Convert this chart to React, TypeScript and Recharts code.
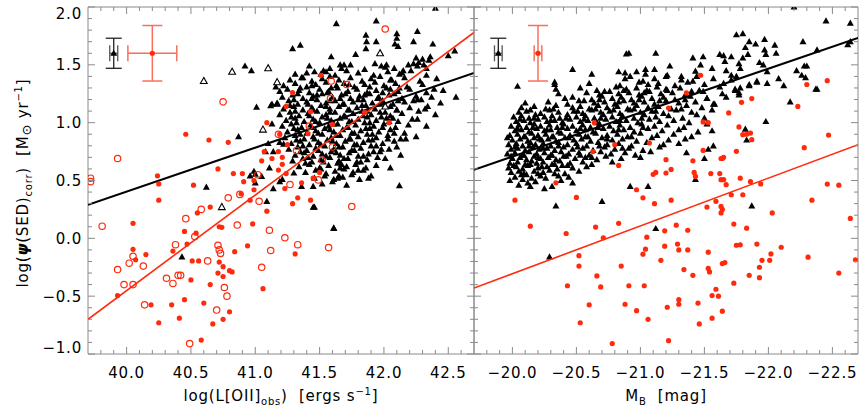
import React from 'react';
import { ScatterChart, Scatter, XAxis, YAxis, ReferenceArea, ErrorBar } from 'recharts';

type Pt = [number, number];

// ---------- left panel: log L[OII]obs vs log SFR(SED) ----------
const leftRedFilled: Pt[] = [
  [40.46, 0.9], [40.64, 0.85], [40.79, 0.83], [40.24, 0.54], [40.25, 0.47], [40.25, 0.33], [40.52, 0.46],
  [40.71, 0.6], [40.83, 0.56], [40.9, 0.56], [40.91, 0.49], [40.99, 0.5], [41.05, 0.67], [41.09, 1.0],
  [41.13, 0.69], [41.07, 0.75], [41.18, 0.75], [41.21, 0.7], [41.18, 0.59], [41.21, 0.64], [41.19, 0.9],
  [40.89, 0.385], [40.96, 0.33], [41.09, 0.235], [40.65, 0.27], [40.55, 0.22], [40.05, 0.13], [40.45, 0.06],
  [40.54, 0.045], [40.72, 0.1], [40.74, 0.095], [40.98, 0.125], [40.94, -0.065], [40.84, -0.115], [40.36, -0.11],
  [40.47, -0.05], [40.05, -0.095], [40.07, -0.185], [40.15, -0.14], [40.51, -0.195], [40.56, -0.195],
  [40.72, -0.205], [40.75, -0.245], [40.71, -0.3], [40.75, -0.33], [40.8, -0.28], [40.82, -0.29], [40.5, -0.36],
  [40.65, -0.4], [39.93, -0.495], [40.19, -0.575], [40.35, -0.575], [40.45, -0.53], [40.6, -0.56], [40.8, -0.635],
  [40.25, -0.73], [40.41, -0.69], [40.67, -0.74], [40.75, -0.7], [40.58, -0.88], [41.06, -0.435],
  [41.24, 0.56], [40.99, 0.42], [41.23, 0.43], [41.36, 0.48], [41.45, 0.52], [41.5, 0.57], [41.33, 0.35],
  [41.29, 0.3], [41.43, 0.33], [41.31, -0.135], [41.25, 0.81], [41.41, 0.905], [41.6, 0.985], [42.04, 1.0],
  [41.51, 1.41], [41.29, 1.26], [41.24, 1.14], [41.43, 1.095], [41.85, 1.09],
];

const leftRedOpen: Pt[] = [
  [40.75, 1.18], [39.93, 0.69], [39.72, 0.52], [39.72, 0.49], [39.81, 0.105], [40.46, 0.17], [40.58, 0.25],
  [40.79, 0.35], [40.88, 0.38], [41.02, 0.55], [41.03, 0.32], [40.86, 0.115], [41.11, 0.07], [41.23, 0.005],
  [41.12, -0.105], [41.05, -0.25], [40.53, 0.015], [40.38, -0.055], [40.71, -0.06], [40.72, -0.1], [40.73, -0.13],
  [40.63, -0.195], [40.05, -0.155], [40.02, -0.215], [40.13, -0.24], [39.93, -0.27], [40.31, -0.345],
  [40.4, -0.32], [40.42, -0.32], [40.36, -0.39], [39.98, -0.4], [40.05, -0.4], [40.76, -0.425], [40.78, -0.5],
  [40.14, -0.575], [40.7, -0.62], [40.49, -0.91], [41.32, 0.76], [41.6, 0.79], [41.52, 0.675], [41.27, 0.465],
  [41.49, 0.505], [41.75, 0.275], [41.33, -0.055], [41.57, -0.08], [41.42, 0.97], [42.01, 1.81], [41.59, 1.36],
  [41.71, 1.33], [41.585, 1.21], [41.18, 0.9],
];

const leftBlackOpen: Pt[] = [
  [40.6, 1.36], [40.82, 1.44], [41.1, 1.47], [41.17, 1.35], [41.06, 0.94], [40.74, 0.27], [41.97, 1.6], [42.01, 1.14],
];

const leftBlackSparse: Pt[] = [
  [41.01, 1.135], [41.12, 1.147], [41.17, 1.165], [41.13, 0.99], [40.87, 0.88], [40.99, 0.58], [41.05, 0.535],
  [40.96, 0.54], [41.0, 0.48], [41.11, 0.61], [40.62, 0.443], [41.09, 0.32], [41.14, 0.43], [41.19, 0.49],
  [41.21, 0.51], [41.1, 0.82], [41.14, 0.75], [41.08, 0.75], [41.19, 0.83], [41.22, 0.815], [40.43, -0.16],
  [41.63, 1.857], [41.94, 1.88], [42.4, 1.99], [41.29, 1.64], [41.35, 1.67], [40.97, 1.45], [40.92, 1.49],
  [41.59, 1.57], [41.86, 1.756], [41.865, 1.7], [41.86, 1.64], [41.78, 1.59], [41.94, 1.7], [42.1, 1.77],
  [42.1, 1.73], [42.085, 1.68], [42.11, 1.66], [42.26, 1.79], [42.23, 1.7], [42.38, 1.68], [42.25, 1.56],
  [42.27, 1.52], [42.23, 1.51], [42.26, 1.49], [42.3, 1.55], [42.36, 1.57], [42.31, 1.5], [42.33, 1.47],
  [42.35, 1.54], [42.5, 1.58], [42.55, 1.62], [41.93, 1.51], [41.74, 1.5], [41.67, 1.47], [41.69, 1.5],
  [41.53, 1.45], [41.55, 1.44], [41.51, 1.42], [41.4, 1.43], [41.37, 1.39], [41.16, 1.31], [41.13, 1.16],
  [41.17, 1.16], [42.01, 1.48], [42.02, 1.5], [42.05, 1.37], [42.14, 1.43], [42.15, 1.45], [42.12, 1.3],
  [42.23, 1.19], [42.26, 1.2], [42.39, 1.29], [42.56, 1.22], [42.34, 1.14], [42.04, 0.77], [42.13, 0.72],
  [42.01, 0.69], [42.05, 0.61], [41.81, 0.51], [41.9, 0.54], [42.12, 0.455], [41.46, 0.27], [41.61, 0.085],
  [41.0, 0.555], [41.64, 0.52], [41.65, 0.54], [41.3, 0.565], [41.36, 0.45], [41.45, 0.45], [42.26, 1.03],
  [42.17, 0.86], [41.61, 0.09], [41.45, 0.27],
];

const leftBlackCloud: Pt[] = [
  [41.42, 1.49], [41.58, 1.47], [41.66, 1.5], [41.85, 1.46], [41.98, 1.49], [42.08, 1.47], [42.19, 1.5],
  [41.31, 1.42], [41.46, 1.44], [41.62, 1.41], [41.71, 1.45], [41.8, 1.43], [41.92, 1.41], [42.03, 1.44], [42.12, 1.42], [42.21, 1.45], [42.33, 1.41],
  [41.27, 1.37], [41.36, 1.39], [41.44, 1.36], [41.52, 1.38], [41.58, 1.4], [41.65, 1.37], [41.74, 1.39], [41.83, 1.36], [41.9, 1.38], [41.97, 1.4], [42.06, 1.37], [42.16, 1.39], [42.28, 1.36], [42.41, 1.38],
  [41.22, 1.32], [41.31, 1.34], [41.4, 1.31], [41.47, 1.33], [41.55, 1.35], [41.63, 1.32], [41.69, 1.34], [41.77, 1.31], [41.85, 1.33], [41.93, 1.35], [42.0, 1.32], [42.09, 1.34], [42.18, 1.31], [42.3, 1.33],
  [41.19, 1.27], [41.25, 1.29], [41.34, 1.28], [41.42, 1.26], [41.5, 1.29], [41.57, 1.27], [41.64, 1.3], [41.72, 1.27], [41.79, 1.29], [41.87, 1.26], [41.94, 1.28], [42.02, 1.3], [42.11, 1.27], [42.2, 1.29], [42.33, 1.26], [42.46, 1.28],
  [41.21, 1.22], [41.29, 1.24], [41.37, 1.21], [41.45, 1.23], [41.52, 1.25], [41.6, 1.22], [41.67, 1.24], [41.74, 1.21], [41.81, 1.23], [41.89, 1.25], [41.96, 1.22], [42.04, 1.24], [42.14, 1.21], [42.25, 1.23], [42.37, 1.22],
  [41.17, 1.17], [41.26, 1.19], [41.33, 1.16], [41.4, 1.18], [41.48, 1.2], [41.55, 1.17], [41.62, 1.19], [41.69, 1.16], [41.76, 1.18], [41.84, 1.2], [41.91, 1.17], [41.99, 1.19], [42.07, 1.16], [42.16, 1.18], [42.29, 1.2], [42.44, 1.17],
  [41.22, 1.12], [41.3, 1.14], [41.37, 1.11], [41.44, 1.13], [41.51, 1.15], [41.58, 1.12], [41.65, 1.14], [41.72, 1.11], [41.79, 1.13], [41.86, 1.15], [41.93, 1.12], [42.01, 1.14], [42.1, 1.11], [42.2, 1.13], [42.32, 1.12],
  [41.19, 1.07], [41.27, 1.09], [41.34, 1.06], [41.41, 1.08], [41.48, 1.1], [41.55, 1.07], [41.62, 1.09], [41.69, 1.06], [41.76, 1.08], [41.83, 1.1], [41.9, 1.07], [41.97, 1.09], [42.05, 1.06], [42.14, 1.08], [42.27, 1.1], [42.4, 1.07],
  [41.24, 1.02], [41.31, 1.04], [41.38, 1.01], [41.45, 1.03], [41.52, 1.05], [41.59, 1.02], [41.66, 1.04], [41.73, 1.01], [41.8, 1.03], [41.87, 1.05], [41.94, 1.02], [42.02, 1.04], [42.11, 1.01], [42.22, 1.03],
  [41.21, 0.97], [41.28, 0.99], [41.36, 0.96], [41.43, 0.98], [41.5, 1.0], [41.57, 0.97], [41.64, 0.99], [41.71, 0.96], [41.78, 0.98], [41.85, 1.0], [41.92, 0.97], [42.0, 0.99], [42.09, 0.96], [42.19, 0.98], [42.33, 0.97],
  [41.25, 0.92], [41.33, 0.94], [41.4, 0.91], [41.47, 0.93], [41.54, 0.95], [41.61, 0.92], [41.68, 0.94], [41.75, 0.91], [41.82, 0.93], [41.89, 0.95], [41.96, 0.92], [42.05, 0.94], [42.16, 0.91],
  [41.23, 0.87], [41.31, 0.89], [41.38, 0.86], [41.45, 0.88], [41.52, 0.9], [41.59, 0.87], [41.66, 0.89], [41.73, 0.86], [41.8, 0.88], [41.87, 0.9], [41.94, 0.87], [42.03, 0.89], [42.13, 0.86], [42.25, 0.88],
  [41.28, 0.82], [41.35, 0.84], [41.42, 0.81], [41.49, 0.83], [41.56, 0.85], [41.63, 0.82], [41.7, 0.84], [41.77, 0.81], [41.84, 0.83], [41.91, 0.85], [41.99, 0.82], [42.08, 0.84],
  [41.26, 0.77], [41.33, 0.79], [41.4, 0.76], [41.47, 0.78], [41.54, 0.8], [41.61, 0.77], [41.68, 0.79], [41.75, 0.76], [41.82, 0.78], [41.9, 0.8], [41.98, 0.77], [42.1, 0.79],
  [41.31, 0.72], [41.38, 0.74], [41.45, 0.71], [41.52, 0.73], [41.59, 0.75], [41.66, 0.72], [41.73, 0.74], [41.8, 0.71], [41.88, 0.73], [41.97, 0.75],
  [41.29, 0.67], [41.37, 0.69], [41.44, 0.66], [41.51, 0.68], [41.58, 0.7], [41.65, 0.67], [41.72, 0.69], [41.79, 0.66], [41.87, 0.68], [41.95, 0.7],
  [41.34, 0.62], [41.42, 0.64], [41.5, 0.61], [41.57, 0.63], [41.64, 0.65], [41.71, 0.62], [41.78, 0.64], [41.86, 0.61], [41.94, 0.63],
  [41.39, 0.57], [41.47, 0.59], [41.55, 0.56], [41.62, 0.58], [41.69, 0.6], [41.76, 0.57], [41.84, 0.59],
  [41.46, 0.52], [41.54, 0.54], [41.61, 0.51], [41.68, 0.53], [41.75, 0.55], [41.88, 0.52],
  [41.52, 0.47], [41.6, 0.49], [41.71, 0.46],
];

// the crowded middle of the left cloud, read between the marks above
const leftBlackCore: Pt[] = [
  [41.35, 1.3], [41.44, 1.32], [41.59, 1.3], [41.73, 1.33], [41.89, 1.31], [42.05, 1.29],
  [41.33, 1.25], [41.48, 1.24], [41.56, 1.26], [41.7, 1.25], [41.85, 1.24], [41.99, 1.26], [42.08, 1.25],
  [41.3, 1.2], [41.44, 1.21], [41.58, 1.19], [41.66, 1.21], [41.8, 1.2], [41.95, 1.21], [42.11, 1.19],
  [41.27, 1.15], [41.41, 1.16], [41.55, 1.14], [41.68, 1.16], [41.83, 1.15], [41.97, 1.16], [42.05, 1.14],
  [41.31, 1.1], [41.45, 1.11], [41.58, 1.09], [41.73, 1.11], [41.87, 1.1], [42.01, 1.09], [42.1, 1.11],
  [41.28, 1.05], [41.42, 1.06], [41.56, 1.04], [41.7, 1.05], [41.84, 1.06], [41.98, 1.05], [42.07, 1.04],
  [41.32, 1.0], [41.47, 1.01], [41.61, 0.99], [41.75, 1.01], [41.89, 1.0], [42.04, 1.01],
  [41.3, 0.95], [41.44, 0.96], [41.58, 0.94], [41.72, 0.96], [41.86, 0.95], [41.99, 0.96],
  [41.35, 0.9], [41.49, 0.91], [41.63, 0.89], [41.77, 0.91], [41.91, 0.9], [42.08, 0.91],
  [41.32, 0.85], [41.46, 0.86], [41.6, 0.84], [41.74, 0.86], [41.88, 0.85], [42.03, 0.86],
  [41.37, 0.8], [41.51, 0.81], [41.65, 0.79], [41.79, 0.81], [41.94, 0.8],
  [41.35, 0.75], [41.49, 0.76], [41.63, 0.74], [41.77, 0.76], [41.92, 0.75],
  [41.41, 0.7], [41.55, 0.71], [41.69, 0.69], [41.84, 0.71],
  [41.39, 0.65], [41.53, 0.66], [41.67, 0.64], [41.82, 0.66],
  [41.51, 0.6], [41.66, 0.61], [41.8, 0.59],
];

const leftBlackFit: Pt[] = [[39.7, 0.29], [42.7, 1.43]];
const leftRedFit: Pt[] = [[39.7, -0.7], [42.7, 1.78]];

// ---------- right panel: M_B vs log SFR(SED) ----------
const rightRed: Pt[] = [
  [-20.02, 0.33], [-20.14, 0.105], [-20.34, 0.48], [-20.42, 0.042], [-20.5, 0.354], [-20.43, -0.41], [-20.52, -0.15],
  [-20.52, -0.24], [-20.53, -0.73], [-20.6, -0.575], [-20.65, 0.097], [-20.66, -0.325], [-20.69, -0.42], [-20.71, 0.005],
  [-20.78, -0.91], [-20.8, 0.81], [-20.83, 0.63], [-20.83, 0.13], [-20.85, -0.24], [-20.88, -0.57], [-20.91, -0.41],
  [-20.97, -0.625], [-20.97, 0.42], [-21.02, 0.35], [-21.03, -0.41], [-21.02, -0.137], [-21.04, -0.094], [-21.05, 0.01],
  [-21.06, -0.7], [-21.07, 0.824], [-21.1, 0.553], [-21.12, 0.57], [-21.11, 0.3], [-21.16, -0.19], [-21.19, 0.065],
  [-21.19, -0.068], [-21.2, 0.68], [-21.2, 0.565], [-21.21, -0.596], [-21.22, -0.885], [-21.22, 1.127], [-21.24, 0.596],
  [-21.24, 0.33], [-21.28, 0.114], [-21.29, -0.05], [-21.3, -0.1], [-21.3, -0.53], [-21.3, -0.57], [-21.34, -0.27],
  [-21.36, 1.257], [-21.37, 0.07], [-21.37, -0.1], [-21.41, 0.67], [-21.41, -0.32], [-21.42, 0.57], [-21.43, 0.535],
  [-21.45, -0.56], [-21.46, -0.74], [-21.47, 1.41], [-21.49, 1.006], [-21.53, 1.0], [-21.49, 0.76], [-21.52, 0.27],
  [-21.53, -0.12], [-21.53, -0.26], [-21.54, -0.29], [-21.55, 0.56], [-21.56, -0.69], [-21.56, -0.495], [-21.59, 0.32],
  [-21.59, -0.44], [-21.61, -0.5], [-21.62, 0.56], [-21.63, 0.507], [-21.65, 0.507], [-21.63, 0.69], [-21.64, 0.69],
  [-21.65, 0.7], [-21.63, 0.276], [-21.64, 0.25], [-21.63, 0.22], [-21.64, -0.218], [-21.66, -0.21], [-21.64, -0.63],
  [-21.67, 0.464], [-21.69, 1.084], [-21.71, 0.377], [-21.73, 0.123], [-21.73, -0.388], [-21.75, 0.752], [-21.75, -0.06],
  [-21.78, -0.056], [-21.77, 0.963], [-21.78, 0.52], [-21.79, 1.176], [-21.8, 0.377], [-21.8, 0.896], [-21.83, 0.9],
  [-21.86, 0.91], [-21.83, 0.088], [-21.85, -0.32], [-21.87, 0.853], [-21.87, 1.208], [-21.86, 0.49], [-21.91, -0.05],
  [-21.93, -0.34], [-21.93, -0.25], [-21.94, 0.47], [-21.95, -0.19], [-22.01, -0.19], [-22.02, -0.135], [-22.03, 0.22],
  [-22.1, -0.077], [-22.23, 1.14], [-22.28, 0.784], [-22.3, 1.33], [-22.31, -0.163], [-22.34, 0.33], [-22.46, 1.363],
  [-22.46, 0.469], [-22.47, 0.893], [-22.55, 0.46], [-22.55, -0.3], [-22.64, 0.172], [-22.68, -0.186], [-20.64, 1.0],
  [-20.63, 0.75],
];

const rightBlackSparse: Pt[] = [
  [-20.04, 1.315], [-20.47, 1.46], [-20.89, 1.595], [-20.91, 1.6], [-21.12, 1.6], [-20.83, 1.44], [-20.88, 1.43],
  [-20.97, 1.44], [-21.04, 1.46], [-21.11, 1.46], [-20.33, 1.35], [-21.75, 1.76], [-21.8, 1.77], [-21.85, 1.7],
  [-21.82, 1.65], [-21.84, 1.59], [-21.8, 1.56], [-21.9, 1.68], [-21.97, 1.72], [-22.05, 1.67], [-21.97, 1.63],
  [-21.98, 1.59], [-22.06, 1.6], [-22.27, 1.7], [-22.38, 1.63], [-22.45, 1.88], [-22.64, 1.86], [-22.62, 1.675],
  [-22.64, 1.7], [-22.2, 2.0], [-21.62, 1.59], [-21.65, 1.58], [-21.66, 1.53], [-21.71, 1.57], [-21.41, 1.56],
  [-21.49, 1.57], [-21.47, 1.5], [-21.43, 1.445], [-21.23, 1.49], [-21.2, 1.4], [-21.32, 1.4], [-21.56, 1.47],
  [-21.67, 1.45], [-21.77, 1.51], [-21.78, 1.47], [-21.93, 1.52], [-21.96, 1.5], [-21.99, 1.44], [-21.99, 1.34],
  [-22.12, 1.32], [-22.22, 1.45], [-22.26, 1.41], [-22.28, 1.49], [-22.3, 1.49], [-22.29, 1.39], [-22.37, 1.29],
  [-22.17, 1.18], [-21.98, 1.01], [-21.91, 1.35], [-21.85, 1.33], [-21.78, 1.3], [-21.77, 1.24], [-21.74, 1.28],
  [-21.57, 1.16], [-21.56, 1.11], [-21.52, 1.21], [-21.56, 0.93], [-21.53, 0.77], [-21.5, 0.69], [-21.36, 0.74],
  [-21.43, 0.51], [-21.82, 0.945], [-21.83, 0.85], [-20.29, -0.16], [-20.34, 0.28], [-20.7, 0.32], [-21.12, 0.085],
  [-21.87, 0.28], [-21.5, 1.04], [-21.57, 0.8], [-22.38, 1.29], [-20.92, 0.45], [-21.06, 0.45],
];

const rightBlackCloud: Pt[] = [
  [-20.05, 0.46], [-20.12, 0.48], [-20.31, 0.45], [-20.25, 0.43], [-20.47, 0.48], [-20.14, 0.45],
  [-19.98, 0.5], [-20.08, 0.51], [-20.18, 0.49], [-20.26, 0.52], [-20.38, 0.5],
  [-20.02, 0.53], [-20.11, 0.55], [-20.15, 0.52], [-20.22, 0.54], [-20.33, 0.56], [-20.44, 0.53],
  [-19.99, 0.57], [-20.05, 0.58], [-20.09, 0.56], [-20.17, 0.58], [-20.24, 0.57], [-20.29, 0.59], [-20.41, 0.56], [-20.52, 0.58],
  [-19.97, 0.61], [-20.03, 0.62], [-20.08, 0.6], [-20.12, 0.63], [-20.2, 0.61], [-20.27, 0.62], [-20.35, 0.6], [-20.39, 0.63], [-20.47, 0.61], [-20.58, 0.62],
  [-19.98, 0.65], [-20.04, 0.66], [-20.1, 0.64], [-20.15, 0.67], [-20.19, 0.65], [-20.24, 0.66], [-20.31, 0.64], [-20.37, 0.67], [-20.45, 0.65], [-20.55, 0.66], [-20.62, 0.64], [-20.78, 0.66],
  [-20.0, 0.69], [-20.06, 0.7], [-20.11, 0.68], [-20.17, 0.71], [-20.22, 0.69], [-20.28, 0.7], [-20.34, 0.68], [-20.42, 0.71], [-20.49, 0.69], [-20.57, 0.7], [-20.66, 0.68], [-20.73, 0.71], [-20.85, 0.69], [-21.0, 0.7],
  [-19.96, 0.73], [-20.02, 0.74], [-20.08, 0.72], [-20.13, 0.75], [-20.19, 0.73], [-20.25, 0.74], [-20.3, 0.72], [-20.38, 0.75], [-20.44, 0.73], [-20.52, 0.74], [-20.6, 0.72], [-20.69, 0.75], [-20.77, 0.73], [-20.88, 0.74], [-20.96, 0.72], [-21.08, 0.75],
  [-19.99, 0.77], [-20.04, 0.78], [-20.1, 0.76], [-20.16, 0.79], [-20.21, 0.77], [-20.27, 0.78], [-20.33, 0.76], [-20.4, 0.79], [-20.47, 0.77], [-20.55, 0.78], [-20.63, 0.76], [-20.72, 0.79], [-20.8, 0.77], [-20.91, 0.78], [-21.02, 0.76], [-21.15, 0.79],
  [-19.97, 0.81], [-20.03, 0.82], [-20.08, 0.8], [-20.14, 0.83], [-20.18, 0.81], [-20.24, 0.82], [-20.3, 0.8], [-20.36, 0.83], [-20.43, 0.81], [-20.5, 0.82], [-20.58, 0.8], [-20.67, 0.83], [-20.74, 0.81], [-20.83, 0.82], [-20.93, 0.8], [-21.05, 0.83], [-21.18, 0.81], [-21.3, 0.82],
  [-20.0, 0.85], [-20.06, 0.86], [-20.12, 0.84], [-20.17, 0.87], [-20.23, 0.85], [-20.28, 0.86], [-20.34, 0.84], [-20.41, 0.87], [-20.48, 0.85], [-20.54, 0.86], [-20.61, 0.84], [-20.7, 0.87], [-20.78, 0.85], [-20.86, 0.86], [-20.97, 0.84], [-21.09, 0.87], [-21.22, 0.85], [-21.35, 0.86],
  [-19.98, 0.89], [-20.04, 0.9], [-20.1, 0.88], [-20.15, 0.91], [-20.2, 0.89], [-20.26, 0.9], [-20.32, 0.88], [-20.38, 0.91], [-20.45, 0.89], [-20.52, 0.9], [-20.59, 0.88], [-20.65, 0.91], [-20.74, 0.89], [-20.82, 0.9], [-20.9, 0.88], [-21.0, 0.91], [-21.13, 0.89], [-21.26, 0.9], [-21.4, 0.88],
  [-20.02, 0.93], [-20.07, 0.94], [-20.13, 0.92], [-20.19, 0.95], [-20.25, 0.93], [-20.3, 0.94], [-20.36, 0.92], [-20.43, 0.95], [-20.5, 0.93], [-20.57, 0.94], [-20.63, 0.92], [-20.71, 0.95], [-20.79, 0.93], [-20.87, 0.94], [-20.95, 0.92], [-21.06, 0.95], [-21.17, 0.93], [-21.3, 0.94], [-21.45, 0.92],
  [-19.99, 0.97], [-20.05, 0.98], [-20.11, 0.96], [-20.17, 0.99], [-20.22, 0.97], [-20.29, 0.98], [-20.35, 0.96], [-20.4, 0.99], [-20.47, 0.97], [-20.55, 0.98], [-20.61, 0.96], [-20.68, 0.99], [-20.76, 0.97], [-20.84, 0.98], [-20.92, 0.96], [-21.01, 0.99], [-21.11, 0.97], [-21.21, 0.98], [-21.34, 0.96], [-21.52, 0.99],
  [-20.03, 1.01], [-20.09, 1.02], [-20.14, 1.0], [-20.2, 1.03], [-20.27, 1.01], [-20.33, 1.02], [-20.39, 1.0], [-20.45, 1.03], [-20.53, 1.01], [-20.59, 1.02], [-20.66, 1.0], [-20.73, 1.03], [-20.81, 1.01], [-20.89, 1.02], [-20.98, 1.0], [-21.07, 1.03], [-21.15, 1.01], [-21.26, 1.02], [-21.38, 1.0],
  [-20.01, 1.05], [-20.07, 1.06], [-20.13, 1.04], [-20.18, 1.07], [-20.25, 1.05], [-20.31, 1.06], [-20.37, 1.04], [-20.43, 1.07], [-20.5, 1.05], [-20.57, 1.06], [-20.64, 1.04], [-20.71, 1.07], [-20.78, 1.05], [-20.86, 1.06], [-20.95, 1.04], [-21.03, 1.07], [-21.12, 1.05], [-21.22, 1.06], [-21.33, 1.04], [-21.44, 1.07],
  [-20.05, 1.09], [-20.11, 1.1], [-20.22, 1.08], [-20.29, 1.11], [-20.36, 1.09], [-20.48, 1.1], [-20.55, 1.08], [-20.62, 1.11], [-20.69, 1.09], [-20.76, 1.1], [-20.84, 1.08], [-20.92, 1.11], [-21.0, 1.09], [-21.09, 1.1], [-21.18, 1.08], [-21.28, 1.11], [-21.4, 1.09],
  [-20.07, 1.13], [-20.17, 1.14], [-20.26, 1.12], [-20.34, 1.15], [-20.47, 1.13], [-20.53, 1.14], [-20.6, 1.12], [-20.67, 1.15], [-20.74, 1.13], [-20.82, 1.14], [-20.9, 1.12], [-20.97, 1.15], [-21.06, 1.13], [-21.14, 1.14], [-21.24, 1.12], [-21.36, 1.15], [-21.48, 1.13],
  [-20.1, 1.17], [-20.28, 1.18], [-20.43, 1.16], [-20.56, 1.19], [-20.64, 1.17], [-20.72, 1.18], [-20.8, 1.16], [-20.87, 1.19], [-20.95, 1.17], [-21.03, 1.18], [-21.11, 1.16], [-21.2, 1.19], [-21.3, 1.17], [-21.43, 1.18], [-21.58, 1.16],
  [-20.41, 1.21], [-20.47, 1.22], [-20.62, 1.2], [-20.7, 1.23], [-20.78, 1.21], [-20.85, 1.22], [-20.93, 1.2], [-21.01, 1.23], [-21.09, 1.21], [-21.18, 1.22], [-21.27, 1.2], [-21.39, 1.23], [-21.52, 1.21], [-21.67, 1.22],
  [-20.36, 1.25], [-20.58, 1.26], [-20.68, 1.24], [-20.76, 1.27], [-20.83, 1.25], [-20.91, 1.26], [-20.99, 1.24], [-21.07, 1.27], [-21.16, 1.25], [-21.25, 1.26], [-21.35, 1.24], [-21.49, 1.27], [-21.64, 1.25], [-21.77, 1.26],
  [-20.34, 1.29], [-20.53, 1.3], [-20.66, 1.28], [-20.81, 1.31], [-20.89, 1.29], [-20.97, 1.3], [-21.05, 1.28], [-21.13, 1.31], [-21.2, 1.29], [-21.31, 1.3], [-21.46, 1.28], [-21.62, 1.31], [-21.74, 1.29],
  [-20.33, 1.33], [-20.6, 1.34], [-20.84, 1.32], [-20.99, 1.35], [-21.06, 1.33], [-21.14, 1.34], [-21.27, 1.32], [-21.37, 1.35], [-21.5, 1.33], [-21.65, 1.34], [-21.85, 1.32],
  [-20.88, 1.38], [-21.02, 1.36], [-21.11, 1.38], [-21.32, 1.37], [-21.41, 1.36], [-21.57, 1.38], [-21.71, 1.37], [-21.91, 1.36],
  [-20.62, 1.42], [-20.92, 1.4], [-21.04, 1.42], [-21.21, 1.41], [-21.44, 1.4], [-21.71, 1.41], [-21.75, 1.4], [-22.08, 1.38],
];

// the crowded middle of the right cloud
const rightBlackCore: Pt[] = [
  [-20.07, 0.55], [-20.2, 0.56], [-20.36, 0.54],
  [-20.01, 0.63], [-20.14, 0.64], [-20.23, 0.62], [-20.33, 0.64], [-20.43, 0.63],
  [-19.99, 0.71], [-20.09, 0.72], [-20.2, 0.7], [-20.31, 0.72], [-20.4, 0.71], [-20.53, 0.72], [-20.62, 0.7],
  [-20.02, 0.79], [-20.13, 0.8], [-20.24, 0.78], [-20.36, 0.8], [-20.51, 0.79], [-20.68, 0.8], [-20.86, 0.78],
  [-19.96, 0.87], [-20.09, 0.88], [-20.21, 0.86], [-20.31, 0.88], [-20.44, 0.87], [-20.57, 0.88], [-20.74, 0.86], [-20.93, 0.88],
  [-20.04, 0.95], [-20.16, 0.96], [-20.27, 0.94], [-20.39, 0.96], [-20.53, 0.95], [-20.67, 0.96], [-20.83, 0.94], [-21.02, 0.96],
  [-20.06, 1.03], [-20.17, 1.04], [-20.3, 1.02], [-20.42, 1.04], [-20.56, 1.03], [-20.69, 1.04], [-20.84, 1.02], [-21.01, 1.04],
  [-20.14, 1.11], [-20.32, 1.12], [-20.51, 1.1], [-20.65, 1.12], [-20.79, 1.11], [-20.95, 1.12], [-21.12, 1.1], [-21.32, 1.12],
  [-20.52, 1.19], [-20.68, 1.2], [-20.83, 1.18], [-20.99, 1.2], [-21.15, 1.19], [-21.35, 1.2],
  [-20.72, 1.27], [-20.87, 1.28], [-21.03, 1.26], [-21.21, 1.28], [-21.4, 1.27],
];

const rightBlackFit: Pt[] = [[-19.7, 0.593], [-22.7, 1.733]];
const rightRedFit: Pt[] = [[-19.7, -0.43], [-22.7, 0.81]];

// typical error bars shown in the corners
const leftBlackErr = [{ x: 39.9, y: 1.6, ex: 0.031, ey: 0.13 }];
const leftRedErr = [{ x: 40.2, y: 1.6, ex: 0.19, ey: 0.24 }];
const rightBlackErr = [{ x: -19.89, y: 1.6, ex: 0.03, ey: 0.13 }];
const rightRedErr = [{ x: -20.2, y: 1.6, ex: 0.03, ey: 0.24 }];

const leftMajor = [40.0, 40.5, 41.0, 41.5, 42.0, 42.5];
const rightMajor = [-20.0, -20.5, -21.0, -21.5, -22.0, -22.5];
const yMajor = [-1.0, -0.5, 0.0, 0.5, 1.0, 1.5, 2.0];

// ---------- styling ----------
const RED = '#ff2a0c';
const ERR_RED = '#f8705c';
const AXIS = '#8a8a8a';
const FONT = '"DejaVu Sans", sans-serif';
const H = 415;
const TOP = 7;
const BOTTOM = 354;
const NB = '\u00a0';

const steps = (a: number, b: number, s: number) => {
  const out: number[] = [];
  for (let v = a; v <= b + 1e-9; v += s) out.push(Math.round(v * 10) / 10);
  return out;
};
const leftTicks = steps(39.8, 42.6, 0.1);
const rightTicks = steps(-22.6, -19.8, 0.1);
const yTicks = steps(-0.9, 1.9, 0.1).concat([-1.0, 2.0]);

const isMajor = (v: number, majors: number[]) => majors.some((m) => Math.abs(m - v) < 1e-6);
const fmt = (v: number) => (v < 0 ? '\u2212' : '') + Math.abs(v).toFixed(1);
const pts = (a: Pt[]) => a.map(([x, y]) => ({ x, y }));

const Tri = (p: any) => (
  <polygon points={`${p.cx},${p.cy - 3.6} ${p.cx - 3.5},${p.cy + 2.6} ${p.cx + 3.5},${p.cy + 2.6}`} fill="#000" />
);
const OpenTri = (p: any) => (
  <polygon points={`${p.cx},${p.cy - 3.6} ${p.cx - 3.4},${p.cy + 2.5} ${p.cx + 3.4},${p.cy + 2.5}`} fill="#fff" stroke="#000" strokeWidth={1.1} />
);
const Dot = (p: any) => <circle cx={p.cx} cy={p.cy} r={2.6} fill={RED} />;
const Ring = (p: any) => <circle cx={p.cx} cy={p.cy} r={3.2} fill="none" stroke={RED} strokeWidth={1.2} />;
const NoMark = () => <g />;

const xTick = (majors: number[]) => (props: any) => {
  const { x, payload } = props;
  const v = payload.value;
  const major = isMajor(v, majors);
  const len = major ? 7 : 4;
  return (
    <g>
      <line x1={x} x2={x} y1={BOTTOM} y2={BOTTOM - len} stroke={AXIS} />
      <line x1={x} x2={x} y1={TOP} y2={TOP + len} stroke={AXIS} />
      {major && (
        <text x={x} y={BOTTOM + 19} dy="0.36em" textAnchor="middle" fontFamily={FONT} fontSize={15} letterSpacing={0.8} fill="#000">
          {fmt(v)}
        </text>
      )}
    </g>
  );
};

const yTick = (left: number, right: number, labels: boolean) => (props: any) => {
  const { y, payload } = props;
  const v = payload.value;
  const major = isMajor(v, yMajor);
  const len = major ? 7 : 4;
  const shift = v > 1.95 ? 7 : v < -0.95 ? -6 : 0;
  return (
    <g>
      <line x1={left} x2={left + len} y1={y} y2={y} stroke={AXIS} />
      <line x1={right - len} x2={right} y1={y} y2={y} stroke={AXIS} />
      {labels && major && (
        <text x={left - 6} y={y + shift} dy="0.36em" textAnchor="end" fontFamily={FONT} fontSize={15} letterSpacing={0.8} fill="#000">
          {fmt(v)}
        </text>
      )}
    </g>
  );
};

function Panel(props: {
  width: number; left: number; right: number; yWidth: number; marginLeft: number; marginRight: number;
  domain: [number, number]; reversed: boolean; ticks: number[]; majors: number[]; yLabels: boolean;
  children: React.ReactNode;
}) {
  const { width, left, right, domain } = props;
  return (
    <ScatterChart width={width} height={H} margin={{ top: TOP, right: props.marginRight, bottom: 0, left: props.marginLeft }}>
      <XAxis
        type="number" dataKey="x" domain={domain} reversed={props.reversed} allowDataOverflow
        ticks={props.ticks} interval={0} tick={xTick(props.majors)} tickLine={false} axisLine={false}
        tickSize={0} tickMargin={0} height={H - BOTTOM}
      />
      <YAxis
        type="number" dataKey="y" domain={[-1, 2]} allowDataOverflow ticks={yTicks} interval={0}
        tick={yTick(left, right, props.yLabels)} tickLine={false} axisLine={false} tickSize={0} tickMargin={0}
        width={props.yWidth}
      />
      <ReferenceArea x1={domain[0]} x2={domain[1]} y1={-1} y2={2} fill="none" stroke={AXIS} strokeWidth={1} />
      {props.children}
    </ScatterChart>
  );
}

export default function App() {
  return (
    <div style={{ position: 'absolute', left: 0, top: 0, width: 867, height: H, background: '#fff' }}>
      <div style={{ position: 'absolute', left: 0, top: 0 }}>
        <Panel width={476} left={88} right={474} yWidth={88} marginLeft={0} marginRight={2}
          domain={[39.7, 42.7]} reversed={false} ticks={leftTicks} majors={leftMajor} yLabels>
          <Scatter data={pts(leftBlackCloud)} shape={Tri} isAnimationActive={false} />
          <Scatter data={pts(leftBlackCore)} shape={Tri} isAnimationActive={false} />
          <Scatter data={pts(leftBlackSparse)} shape={Tri} isAnimationActive={false} />
          <Scatter data={pts(leftBlackOpen)} shape={OpenTri} isAnimationActive={false} />
          <Scatter data={pts(leftBlackFit)} shape={NoMark} line={{ stroke: '#000', strokeWidth: 2 }} isAnimationActive={false} />
          <Scatter data={pts(leftRedFilled)} shape={Dot} isAnimationActive={false} />
          <Scatter data={pts(leftRedOpen)} shape={Ring} isAnimationActive={false} />
          <Scatter data={pts(leftRedFit)} shape={NoMark} line={{ stroke: RED, strokeWidth: 1.6 }} isAnimationActive={false} />
          <Scatter data={leftBlackErr} shape={Tri} isAnimationActive={false}>
            <ErrorBar dataKey="ey" direction="y" width={8} stroke="#222" strokeWidth={1.3} isAnimationActive={false} />
            <ErrorBar dataKey="ex" direction="x" width={8} stroke="#555" strokeWidth={1.3} isAnimationActive={false} />
          </Scatter>
          <Scatter data={leftRedErr} shape={Dot} isAnimationActive={false}>
            <ErrorBar dataKey="ey" direction="y" width={10} stroke={ERR_RED} strokeWidth={1.5} isAnimationActive={false} />
            <ErrorBar dataKey="ex" direction="x" width={8} stroke={ERR_RED} strokeWidth={1.5} isAnimationActive={false} />
          </Scatter>
        </Panel>
      </div>
      <div style={{ position: 'absolute', left: 472, top: 0 }}>
        <Panel width={395} left={2} right={386} yWidth={2} marginLeft={0} marginRight={9}
          domain={[-22.7, -19.7]} reversed ticks={rightTicks} majors={rightMajor} yLabels={false}>
          <Scatter data={pts(rightBlackCloud)} shape={Tri} isAnimationActive={false} />
          <Scatter data={pts(rightBlackCore)} shape={Tri} isAnimationActive={false} />
          <Scatter data={pts(rightBlackSparse)} shape={Tri} isAnimationActive={false} />
          <Scatter data={pts(rightBlackFit)} shape={NoMark} line={{ stroke: '#000', strokeWidth: 2 }} isAnimationActive={false} />
          <Scatter data={pts(rightRed)} shape={Dot} isAnimationActive={false} />
          <Scatter data={pts(rightRedFit)} shape={NoMark} line={{ stroke: RED, strokeWidth: 1.6 }} isAnimationActive={false} />
          <Scatter data={rightBlackErr} shape={Tri} isAnimationActive={false}>
            <ErrorBar dataKey="ey" direction="y" width={8} stroke="#222" strokeWidth={1.3} isAnimationActive={false} />
            <ErrorBar dataKey="ex" direction="x" width={8} stroke="#555" strokeWidth={1.3} isAnimationActive={false} />
          </Scatter>
          <Scatter data={rightRedErr} shape={Dot} isAnimationActive={false}>
            <ErrorBar dataKey="ey" direction="y" width={10} stroke={ERR_RED} strokeWidth={1.5} isAnimationActive={false} />
            <ErrorBar dataKey="ex" direction="x" width={8} stroke={ERR_RED} strokeWidth={1.5} isAnimationActive={false} />
          </Scatter>
        </Panel>
      </div>
      <svg width={867} height={H} style={{ position: 'absolute', left: 0, top: 0, pointerEvents: 'none' }}>
        <g fontFamily={FONT} fontSize={15} letterSpacing={0.8} fill="#000">
          <text x={281} y={401} textAnchor="middle">
            log(L[OII]<tspan dy={4} fontSize={10}>obs</tspan><tspan dy={-4}>{`)${NB}${NB}[ergs${NB}s`}</tspan>
            <tspan dy={-6} fontSize={10}>{'\u22121'}</tspan><tspan dy={6}>]</tspan>
          </text>
          <text x={666} y={401} textAnchor="middle">
            M<tspan dy={4} fontSize={10}>B</tspan><tspan dy={-4}>{`${NB}${NB}[mag]`}</tspan>
          </text>
          <text transform="translate(28,183) rotate(-90)" textAnchor="middle">
            log(<tspan fontStyle="italic" fontWeight="bold">ψ</tspan>(SED)<tspan dy={4} fontSize={10}>corr</tspan>
            <tspan dy={-4}>{`)${NB}${NB}[M`}</tspan>
            <tspan dy={3} fontSize={13}>⊙</tspan><tspan dy={-3}>{`${NB}yr`}</tspan>
            <tspan dy={-6} fontSize={10}>{'\u22121'}</tspan><tspan dy={6}>]</tspan>
          </text>
        </g>
      </svg>
    </div>
  );
}
